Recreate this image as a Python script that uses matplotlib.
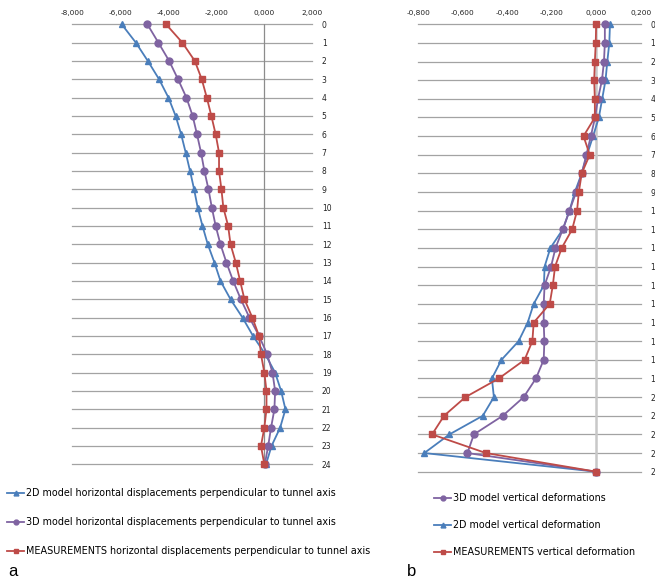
import matplotlib
matplotlib.use("Agg")
import matplotlib.pyplot as plt
from matplotlib.ticker import FixedLocator, FuncFormatter

# --- data -----------------------------------------------------------------
rows = list(range(25))

# a) horizontal displacements perpendicular to tunnel axis
horiz_2d = [-5.94, -5.35, -4.85, -4.38, -3.99, -3.69, -3.46, -3.27, -3.09, -2.92,
            -2.77, -2.57, -2.35, -2.07, -1.82, -1.40, -0.90, -0.46, 0.05, 0.46,
            0.71, 0.89, 0.67, 0.31, 0.08]
horiz_3d = [-4.87, -4.41, -3.96, -3.59, -3.24, -2.98, -2.80, -2.63, -2.49, -2.32,
            -2.18, -2.02, -1.82, -1.57, -1.29, -0.97, -0.61, -0.21, 0.13, 0.35,
            0.46, 0.43, 0.29, 0.17, 0.03]
horiz_meas = [-4.09, -3.41, -2.89, -2.60, -2.39, -2.20, -2.02, -1.88, -1.88, -1.78,
              -1.70, -1.50, -1.40, -1.18, -1.00, -0.82, -0.49, -0.21, -0.13, 0.01,
              0.10, 0.10, 0.01, -0.13, 0.01]

# b) vertical deformations
vert_3d = [0.039, 0.039, 0.035, 0.026, 0.008, -0.005, -0.024, -0.044, -0.065, -0.090,
           -0.120, -0.150, -0.183, -0.203, -0.232, -0.236, -0.236, -0.233, -0.236, -0.271,
           -0.326, -0.420, -0.550, -0.579, 0.0]
vert_2d = [0.062, 0.059, 0.050, 0.042, 0.027, 0.012, -0.014, -0.041, -0.065, -0.096,
           -0.120, -0.150, -0.206, -0.232, -0.235, -0.281, -0.308, -0.349, -0.426, -0.469,
           -0.460, -0.510, -0.660, -0.773, 0.0]
vert_meas = [0.000, -0.002, -0.006, -0.009, -0.006, -0.006, -0.057, -0.029, -0.065, -0.078,
             -0.086, -0.108, -0.155, -0.185, -0.195, -0.209, -0.281, -0.287, -0.322, -0.438,
             -0.588, -0.684, -0.738, -0.496, 0.0]

xticks_a = [-8, -6, -4, -2, 0, 2]
xticks_b = [-0.8, -0.6, -0.4, -0.2, 0.0, 0.2]

labels_a = ["2D model horizontal displacements perpendicular to tunnel axis",
            "3D model horizontal displacements perpendicular to tunnel axis",
            "MEASUREMENTS horizontal displacements perpendicular to tunnel axis"]
labels_b = ["3D model vertical deformations",
            "2D model vertical deformation",
            "MEASUREMENTS vertical deformation"]

BLUE = "#4a7ebb"
PURPLE = "#7f63a1"
RED = "#be4b48"

plt.rcParams["font.family"] = ["DejaVu Sans"]


def comma_fmt(v, pos):
    # european style: decimal comma, 3 decimals
    return f"{v:.3f}".replace(".", ",")


def style_axis(ax, xticks, zero_color, zero_lw):
    ax.set_ylim(24, 0)
    ax.set_xlim(xticks[0], xticks[-1])
    ax.xaxis.tick_top()
    ax.xaxis.set_major_locator(FixedLocator(xticks))
    ax.xaxis.set_major_formatter(FuncFormatter(comma_fmt))
    ax.yaxis.tick_right()
    ax.set_yticks(rows)
    ax.tick_params(axis="x", length=0, pad=6, labelsize=5.3, colors="#222222")
    ax.tick_params(axis="y", length=0, pad=7, labelsize=5.5, colors="#222222")
    for s in ax.spines.values():
        s.set_visible(False)
    for r in rows:
        ax.axhline(r, color="#a3a3a3", lw=0.9, zorder=0, clip_on=False)
    ax.axvline(0, color=zero_color, lw=zero_lw, zorder=0.5)


fig = plt.figure(figsize=(6.55, 5.85), dpi=100)

ax_a = fig.add_axes([0.1104, 0.2063, 0.366, 0.7522])
ax_b = fig.add_axes([0.6386, 0.1937, 0.3395, 0.7648])

style_axis(ax_a, xticks_a, "#8c8c8c", 0.9)
style_axis(ax_b, xticks_b, "#c8c8c8", 1.8)

kw = dict(lw=1.3, clip_on=False)
h_a = [
    ax_a.plot(horiz_2d, rows, color=BLUE, marker="^", ms=5, **kw)[0],
    ax_a.plot(horiz_3d, rows, color=PURPLE, marker="o", ms=5, **kw)[0],
    ax_a.plot(horiz_meas, rows, color=RED, marker="s", ms=5, **kw)[0],
]
h_b2 = ax_b.plot(vert_2d, rows, color=BLUE, marker="^", ms=5, **kw)[0]
h_b3 = ax_b.plot(vert_3d, rows, color=PURPLE, marker="o", ms=5, **kw)[0]
h_bm = ax_b.plot(vert_meas, rows, color=RED, marker="s", ms=5, **kw)[0]
h_b = [h_b3, h_b2, h_bm]

leg_kw = dict(frameon=False, fontsize=6.9, handlelength=1.8, handletextpad=0.15,
              borderpad=0, borderaxespad=0, loc="upper left", markerscale=0.7)
fig.legend(h_a, labels_a, bbox_to_anchor=(0.0107, 0.1655), labelspacing=1.97, **leg_kw)
fig.legend(h_b, labels_b, bbox_to_anchor=(0.6626, 0.157), labelspacing=1.76, **leg_kw)

fig.text(0.012, 0.015, "a", fontsize=12, family="Liberation Sans")
fig.text(0.621, 0.015, "b", fontsize=12, family="Liberation Sans")

fig.savefig("out.png", dpi=100)
